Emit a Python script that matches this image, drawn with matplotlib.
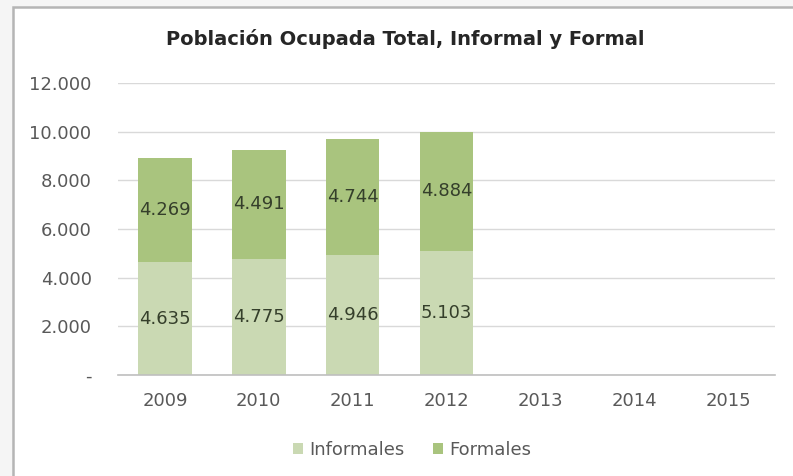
import matplotlib.pyplot as plt
from matplotlib.patches import Rectangle
from matplotlib.ticker import FuncFormatter
import numpy as np

years = ["2009", "2010", "2011", "2012", "2013", "2014", "2015"]
informales = [4635, 4775, 4946, 5103]
formales = [4269, 4491, 4744, 4884]

c_inf = "#cad9b3"
c_for = "#a9c47e"
txt = "#595959"

fig = plt.figure(figsize=(7.93, 4.76), dpi=100)
fig.patch.set_facecolor("#f5f5f5")

# white chart area with a gray edge on the left and top
fig.add_artist(Rectangle((13 / 793, -0.1), 1.2, 1.1 - 7 / 476, transform=fig.transFigure,
                         facecolor="white", edgecolor="#b5b5b5", lw=1.8, zorder=0))

ax = fig.add_axes([118 / 793, 1 - 375 / 476, (775 - 118) / 793, (375 - 83) / 476])
ax.set_facecolor("none")

x = np.arange(len(years))
n = len(informales)
w = 0.57
b1 = ax.bar(x[:n], informales, w, color=c_inf, label="Informales", zorder=2)
b2 = ax.bar(x[:n], formales, w, bottom=informales, color=c_for, label="Formales", zorder=2)

def fmt(v):
    return f"{v:,.0f}".replace(",", ".")

for rects, vals, base in [(b1, informales, [0] * n), (b2, formales, informales)]:
    for r, v, b in zip(rects, vals, base):
        ax.text(r.get_x() + r.get_width() / 2, b + v / 2, fmt(v), ha="center", va="center",
                fontsize=13, color="#353f2b", zorder=3)

ax.set_xlim(-0.5, len(years) - 0.5)
ax.set_ylim(0, 12000)
ax.set_yticks(range(0, 12001, 2000))
ax.yaxis.set_major_formatter(FuncFormatter(lambda v, p: "-" if v == 0 else fmt(v)))
ax.set_xticks(x)
ax.set_xticklabels(years)
ax.tick_params(length=0, labelsize=13, colors=txt)
ax.tick_params(axis="y", pad=19)
ax.tick_params(axis="x", pad=12)
ax.grid(axis="y", color="#d9d9d9", lw=1, zorder=0)
for s in ["top", "right", "left"]:
    ax.spines[s].set_visible(False)
ax.spines["bottom"].set_color("#bfbfbf")
ax.spines["bottom"].set_linewidth(1.2)

fig.text(405 / 793, 1 - 39 / 476, "Población Ocupada Total, Informal y Formal",
         ha="center", va="center", fontsize=14, fontweight="bold", color="#262626")

leg = fig.legend(loc="center", bbox_to_anchor=(412 / 793, 1 - 450 / 476), ncol=2,
                 frameon=False, fontsize=13, handlelength=0.55, handleheight=0.55,
                 handletextpad=0.35, columnspacing=1.6)
for t in leg.get_texts():
    t.set_color(txt)

fig.savefig("out.png", dpi=100)
